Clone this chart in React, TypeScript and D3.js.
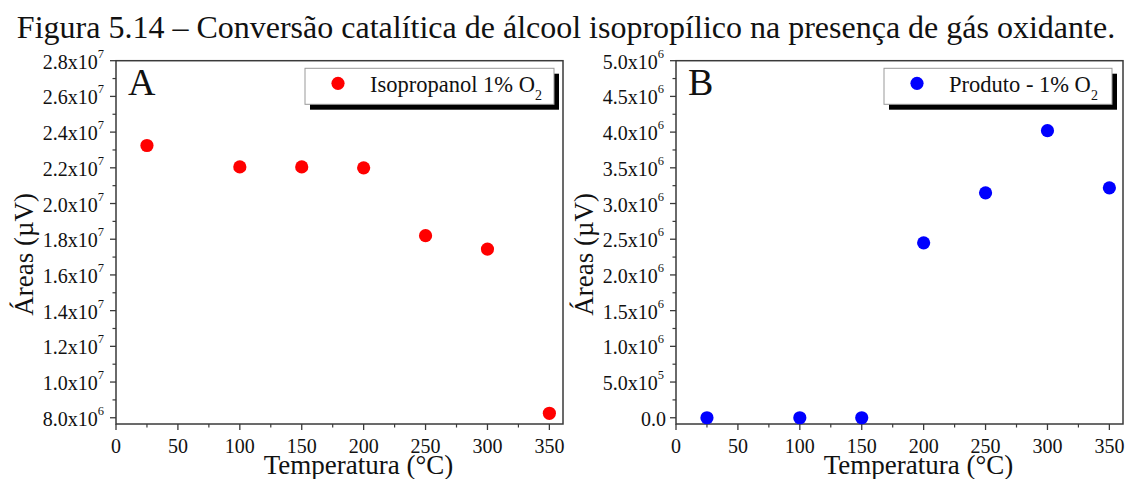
import React from "react";
import * as d3 from "d3";

// Reaction temperatures (°C)
const temperatures = [25, 100, 150, 200, 250, 300, 350];
// Panel A: isopropanol peak areas (µV) with 1% O2
const isopropanolAreas = [2.325e7, 2.205e7, 2.205e7, 2.2e7, 1.82e7, 1.745e7, 8.25e6];
// Panel B: product peak areas (µV) with 1% O2
const productAreas = [0, 0, 0, 2.45e6, 3.15e6, 4.02e6, 3.22e6];

const xTicks = [0, 50, 100, 150, 200, 250, 300, 350];
const yTicksA = [8e6, 1e7, 1.2e7, 1.4e7, 1.6e7, 1.8e7, 2e7, 2.2e7, 2.4e7, 2.6e7, 2.8e7];
const yTicksB = [0, 5e5, 1e6, 1.5e6, 2e6, 2.5e6, 3e6, 3.5e6, 4e6, 4.5e6, 5e6];

const TITLE = "Figura 5.14 – Conversão catalítica de álcool isopropílico na presença de gás oxidante.";
const FONT = "'Liberation Serif', 'Times New Roman', serif";

type PanelProps = {
  left: number;
  right: number;
  top: number;
  bottom: number;
  yDomain: [number, number];
  yTicks: number[];
  yMinorStep: number;
  values: number[];
  color: string;
  letter: string;
  legendMain: string;
  legendX0: number;
  legendX1: number;
};

function sciLabel(v: number) {
  if (v === 0) return { mant: "0.0", exp: "" };
  const e = Math.floor(Math.log10(Math.abs(v)) + 1e-9);
  const m = v / Math.pow(10, e);
  return { mant: m.toFixed(1) + "x10", exp: String(e) };
}

function Panel(p: PanelProps) {
  const x = d3.scaleLinear().domain([0, 361]).range([p.left, p.right]);
  const y = d3.scaleLinear().domain(p.yDomain).range([p.bottom, p.top]);
  const xMinor = d3.range(25, 361, 50);
  const yMinor = d3
    .range(Math.ceil(p.yDomain[0] / p.yMinorStep) * p.yMinorStep, p.yDomain[1], p.yMinorStep)
    .filter((v) => !p.yTicks.some((t) => Math.abs(t - v) < p.yMinorStep / 10));
  const axisColor = "#3a3a3a";
  const midX = (p.left + p.right) / 2;
  const midY = (p.top + p.bottom) / 2;
  return (
    <g fontFamily={FONT} fill="#111">
      {/* frame */}
      <rect x={p.left} y={p.top} width={p.right - p.left} height={p.bottom - p.top}
        fill="none" stroke={axisColor} strokeWidth={1.5} />
      {/* x ticks */}
      {xTicks.map((t) => (
        <g key={"xt" + t}>
          <line x1={x(t)} x2={x(t)} y1={p.bottom} y2={p.bottom + 6} stroke={axisColor} strokeWidth={1.3} />
          <text x={x(t)} y={p.bottom + 28.5} fontSize={20} textAnchor="middle">{t}</text>
        </g>
      ))}
      {xMinor.map((t) => (
        <line key={"xm" + t} x1={x(t)} x2={x(t)} y1={p.bottom} y2={p.bottom + 3.5} stroke={axisColor} strokeWidth={1.2} />
      ))}
      {/* y ticks */}
      {p.yTicks.map((t) => {
        const l = sciLabel(t);
        return (
          <g key={"yt" + t}>
            <line x1={p.left - 6} x2={p.left} y1={y(t)} y2={y(t)} stroke={axisColor} strokeWidth={1.3} />
            <text x={p.left - (l.exp ? 12 : 10)} y={y(t) + 8} fontSize={20} textAnchor="end">
              {l.mant}
              {l.exp && <tspan fontSize={12.5} dy={-11}>{l.exp}</tspan>}
            </text>
          </g>
        );
      })}
      {yMinor.map((t) => (
        <line key={"ym" + t} x1={p.left - 3.5} x2={p.left} y1={y(t)} y2={y(t)} stroke={axisColor} strokeWidth={1.2} />
      ))}
      {/* axis titles */}
      <text x={midX + 19} y={p.bottom + 50} fontSize={27} textAnchor="middle">Temperatura (°C)</text>
      <text transform={`translate(${p.left - 83},${midY + 12}) rotate(-90)`} fontSize={27} textAnchor="middle">
        Áreas (µV)
      </text>
      {/* panel letter */}
      <text x={p.left + 12} y={p.top + 34} fontSize={38}>{p.letter}</text>
      {/* legend */}
      <rect x={p.legendX0 + 5} y={p.top + 13} width={p.legendX1 - p.legendX0} height={36} fill="#000" />
      <rect x={p.legendX0} y={p.top + 7.6} width={p.legendX1 - p.legendX0} height={36}
        fill="#fff" stroke="#999" strokeWidth={1} />
      <circle cx={p.legendX0 + 33} cy={p.top + 22.6} r={6.6} fill={p.color} />
      <text x={p.legendX0 + 65} y={p.top + 31} fontSize={22.5}>
        {p.legendMain}
        <tspan fontSize={14} dy={8}>2</tspan>
      </text>
      {/* data */}
      {temperatures.map((t, i) => (
        <circle key={"pt" + t} cx={x(t)} cy={y(p.values[i])} r={6.6} fill={p.color} />
      ))}
    </g>
  );
}

export default function App() {
  return (
    <div style={{ position: "absolute", left: 0, top: 0, background: "#fff" }}>
      <svg width={1126} height={479} viewBox="0 0 1126 479" style={{ display: "block" }}>
        <rect width={1126} height={479} fill="#fff" />
        <text x={566} y={38} fontFamily={FONT} fontSize={32} textAnchor="middle" fill="#111">
          {TITLE}
        </text>
        <Panel left={116} right={563} top={60.7} bottom={424}
          yDomain={[7.65e6, 2.8e7]} yTicks={yTicksA} yMinorStep={1e6}
          values={isopropanolAreas} color="#ff0000" letter="A"
          legendMain="Isopropanol 1% O" legendX0={305} legendX1={554} />
        <Panel left={676} right={1123} top={60.7} bottom={424}
          yDomain={[-0.0875e6, 5e6]} yTicks={yTicksB} yMinorStep={2.5e5}
          values={productAreas} color="#0000ff" letter="B"
          legendMain="Produto - 1% O" legendX0={884} legendX1={1112} />
      </svg>
    </div>
  );
}
